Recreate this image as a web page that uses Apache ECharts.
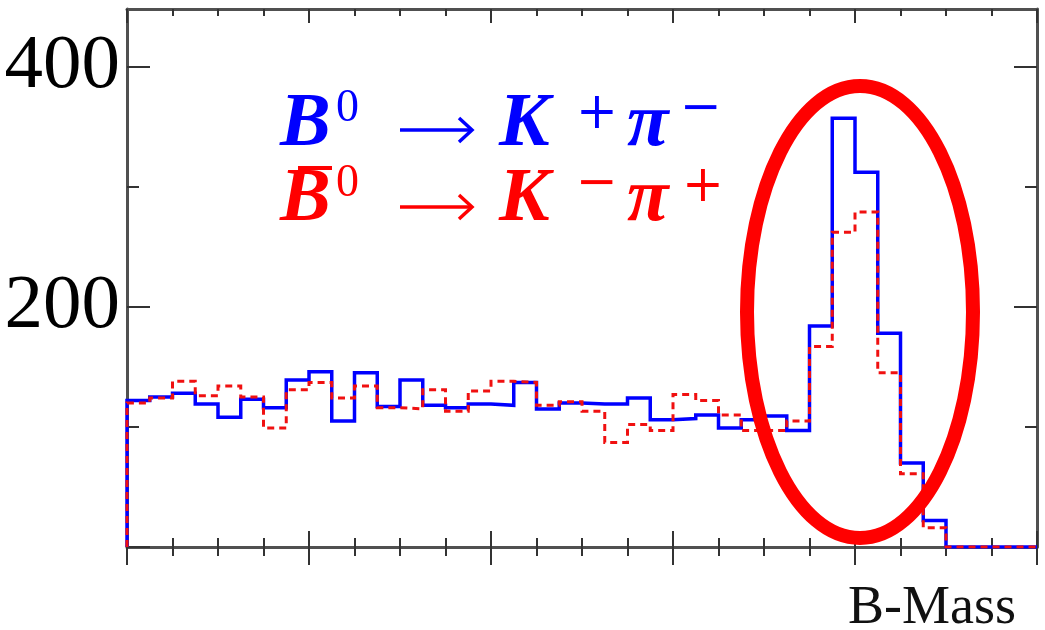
<!DOCTYPE html>
<html>
<head>
<meta charset="utf-8">
<script src="https://cdn.jsdelivr.net/npm/echarts@6/dist/echarts.min.js"></script>
<style>
html, body { margin: 0; padding: 0; background: #fff; }
#chart { width: 1045px; height: 630px; }
</style>
</head>
<body>
<div id="chart"></div>
<script>
// bin counts, 40 bins over the mass window
var blueCounts = [122, 125, 128, 119, 108, 123, 116, 139, 146, 105,
	145, 117, 139, 118, 116, 119, 118, 137, 115, 120,
	119, 119, 124, 106, 107, 110, 99, 106, 109, 97,
	184, 357, 312, 178, 70, 22, 0, 0, 0, 0];
var redCounts = [120, 124, 138, 126, 134, 125, 99, 131, 137, 124,
	134, 116, 115, 131, 113, 130, 138, 137, 118, 121,
	113, 87, 102, 97, 127, 122, 110, 97, 97, 105,
	167, 262, 279, 145, 61, 16, 0, 0, 0, 0];
var yMajorTicks = [200, 400];
var yMinorTicks = [100, 300];
var xAxisName = 'B-Mass';

// histogram outline: start at 0, one point per bin edge
function stepData(counts) {
	var out = [[0, 0]];
	for (var i = 0; i < counts.length; i++) {
		out.push([i, counts[i]]);
	}
	out.push([counts.length, counts[counts.length - 1]]);
	return out;
}

var nBins = blueCounts.length;
var axisColor = '#505050';
var tickColor = '#333';

function xAxisDef(pos, inside, len, minorLen, showLine) {
	return {
		type: 'value', position: pos, min: 0, max: nBins, interval: 8,
		axisLine: { show: showLine, onZero: false, lineStyle: { color: axisColor, width: 3 } },
		axisTick: { show: true, inside: inside, length: len, lineStyle: { color: tickColor, width: 2 } },
		minorTick: { show: true, splitNumber: 4, length: minorLen, lineStyle: { color: tickColor, width: 2 } },
		axisLabel: { show: false },
		splitLine: { show: false },
		minorSplitLine: { show: false }
	};
}

function yAxisDef(pos, ticks, len, withLabels, showLine) {
	return {
		type: 'value', position: pos, min: 0, max: 448,
		axisLine: { show: showLine, onZero: false, lineStyle: { color: axisColor, width: 3 } },
		axisTick: { show: true, inside: true, length: len, customValues: ticks, lineStyle: { color: tickColor, width: 2 } },
		axisLabel: withLabels ? {
			show: true, customValues: yMajorTicks, margin: 7,
			fontFamily: 'Liberation Serif', fontSize: 77, color: '#000',
			padding: [12, 0, 0, 0]
		} : { show: false },
		splitLine: { show: false }
	};
}

// formula text pieces: [text, x, baseline, font, colour]
var bi = 'italic bold 76px "Liberation Serif"';
var sup = '46px "Liberation Serif"';
var pm = '50px "DejaVu Serif"';
var blue = '#0000ff', red = '#ff0000';
var formula = [
	['B', 280, 148, bi, blue],
	['0', 336, 123, sup, blue],
	['K', 499, 148, bi, blue],
	['+', 576, 130, pm, blue],
	['\u03c0', 627, 148, bi, blue],
	['\u2212', 680, 125, pm, blue],
	['B', 280, 223, bi, red],
	['0', 336, 198, sup, red],
	['K', 499, 223, bi, red],
	['\u2212', 576, 200, pm, red],
	['\u03c0', 627, 223, bi, red],
	['+', 682, 203, pm, red]
];

var graphics = [];
formula.forEach(function (p) {
	var size = parseInt(p[3].match(/(\d+)px/)[1], 10);
	graphics.push({
		type: 'text', x: p[1], y: p[2] - 0.3 * size, z: 50,
		style: { text: p[0], font: p[3], fill: p[4], textAlign: 'left', textVerticalAlign: 'middle' }
	});
});
// arrows, drawn as a shaft plus a head
[[130, blue], [207, red]].forEach(function (a) {
	graphics.push({
		type: 'line', z: 50,
		shape: { x1: 400, y1: a[0], x2: 471, y2: a[0] },
		style: { stroke: a[1], lineWidth: 3.5 }
	});
	graphics.push({
		type: 'polyline', z: 50,
		shape: { points: [[459, a[0] - 12], [472, a[0]], [459, a[0] + 12]] },
		style: { stroke: a[1], lineWidth: 3.5, fill: 'none' }
	});
});
// bar over the second B
graphics.push({
	type: 'line', z: 50,
	shape: { x1: 298, y1: 168, x2: 332, y2: 168 },
	style: { stroke: red, lineWidth: 4 }
});
graphics.push({
	type: 'text', x: 1016, y: 625 - 0.3 * 54, z: 50,
	style: { text: xAxisName, font: '54px "Liberation Serif"', fill: '#111', textAlign: 'right', textVerticalAlign: 'middle' }
});
graphics.push({
	type: 'ellipse', z: 100,
	shape: { cx: 860, cy: 312, rx: 113, ry: 226 },
	style: { fill: 'none', stroke: red, lineWidth: 14 }
});

var myChart = echarts.init(document.getElementById('chart'), null, { renderer: 'canvas' });
var option = {
	animation: false,
	backgroundColor: '#fff',
	grid: { left: 127, right: 8, top: 9, bottom: 83, containLabel: false, outerBoundsMode: 'none' },
	xAxis: [
		xAxisDef('bottom', true, 16, 9, true),
		xAxisDef('bottom', false, 18, 9, false),
		xAxisDef('top', true, 14, 7, true)
	],
	yAxis: [
		yAxisDef('left', [0, 200, 400], 23, true, true),
		yAxisDef('left', yMinorTicks, 12, false, false),
		yAxisDef('right', [0, 200, 400], 23, false, true),
		yAxisDef('right', yMinorTicks, 12, false, false)
	],
	series: [{
		name: 'B0',
		type: 'line', step: 'end', xAxisIndex: 0, yAxisIndex: 0,
		symbol: 'none', z: 3,
		lineStyle: { color: blue, width: 3.5, join: 'miter', cap: 'butt' },
		data: stepData(blueCounts)
	}, {
		name: 'B0bar',
		type: 'line', step: 'end', xAxisIndex: 0, yAxisIndex: 0,
		symbol: 'none', z: 4,
		lineStyle: { color: '#f01010', width: 3, type: [7, 5], join: 'miter', cap: 'butt' },
		data: stepData(redCounts)
	}],
	graphic: graphics
};
myChart.setOption(option);
</script>
</body>
</html>
